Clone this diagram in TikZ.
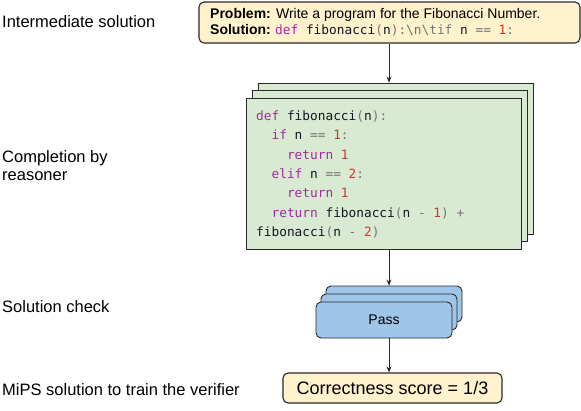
\documentclass[tikz,border=0pt]{standalone}
\usepackage{fontspec}
\setmainfont{Liberation Sans}
\newfontfamily\codefont{DejaVu Sans Mono}
\usetikzlibrary{arrows.meta}
\definecolor{kwc}{RGB}{166,38,164}
\definecolor{numc}{RGB}{205,55,45}
\definecolor{opc}{RGB}{115,115,115}
\definecolor{idc}{RGB}{20,20,35}
\definecolor{yel}{RGB}{255,242,204}
\definecolor{grn}{RGB}{217,234,211}
\definecolor{blu}{RGB}{159,197,232}
\definecolor{edge}{RGB}{40,40,40}
\newcommand{\kw}[1]{\textcolor{kwc}{#1}}
\newcommand{\nm}[1]{\textcolor{numc}{#1}}
\newcommand{\op}[1]{\textcolor{opc}{#1}}
\tikzset{
  lbl/.style={anchor=base west, inner sep=0pt, font=\fontsize{16.5}{18}\selectfont},
  codeline/.style={anchor=base west, inner sep=0pt, text=idc, font=\codefont\fontsize{12.8}{15}\selectfont},
  yelbox/.style={draw=edge, line width=1.1pt, fill=yel, rounded corners=5pt, inner sep=0pt},
  grnbox/.style={draw=edge, line width=0.9pt, fill=grn, inner sep=0pt},
  blubox/.style={draw=edge, line width=0.9pt, fill=blu, rounded corners=5pt, inner sep=0pt},
  arr/.style={draw=edge, line width=1pt, -{Stealth[length=6pt,width=5pt]}}
}
\begin{document}
\begin{tikzpicture}[x=1pt,y=-1pt]
\useasboundingbox (0,0) rectangle (581,410);
% left labels
\node[lbl] (l1) at (2,27) {Intermediate solution};
\node[lbl] (l2a) at (2,162) {Completion by};
\node[lbl] (l2b) at (2,180.5) {reasoner};
\node[lbl] (l3) at (2,312) {Solution check};
\node[lbl] (l4) at (2,395) {MiPS solution to train the verifier};
% top box
\node[yelbox, minimum width=381pt, minimum height=41pt] (top) at (389.5,22.5) {};
\node[anchor=base west, inner sep=0pt, font=\fontsize{14}{16}\selectfont] (p1) at (210,18) {\textbf{Problem:} Write a program for the Fibonacci Number.};
\node[anchor=base west, inner sep=0pt, font=\fontsize{14}{16}\selectfont] (p2) at (210,34) {\textbf{Solution:}};
\node[codeline] (p3) at (275,34) {\kw{def} fibonacci\op{(}n\op{):\textbackslash n\textbackslash tif} n \op{==} \nm{1}\op{:}};
% green stack
\node[grnbox, minimum width=275pt, minimum height=151pt] (g3) at (395.5,158.5) {};
\node[grnbox, minimum width=275pt, minimum height=151pt] (g2) at (389.5,166) {};
\node[grnbox, minimum width=275pt, minimum height=151pt] (g1) at (383.5,173.5) {};
\node[codeline] (c1) at (256,120.6) {\kw{def} fibonacci\op{(}n\op{):}};
\node[codeline] (c2) at (271.4,139.9) {\kw{if} n \op{==} \nm{1}\op{:}};
\node[codeline] (c3) at (286.8,159.2) {\kw{return} \nm{1}};
\node[codeline] (c4) at (271.4,178.5) {\kw{elif} n \op{==} \nm{2}\op{:}};
\node[codeline] (c5) at (286.8,197.8) {\kw{return} \nm{1}};
\node[codeline] (c6) at (271.4,217.1) {\kw{return} fibonacci\op{(}n \op{-} \nm{1}\op{)} \op{+}};
\node[codeline] (c7) at (256,236.4) {fibonacci\op{(}n \op{-} \nm{2}\op{)}};
% blue stack
\node[blubox, minimum width=136pt, minimum height=36pt] (b3) at (394,304) {};
\node[blubox, minimum width=136pt, minimum height=36pt] (b2) at (389,312) {};
\node[blubox, minimum width=136pt, minimum height=36pt] (b1) at (384,320) {\fontsize{14}{16}\selectfont Pass};
% result
\node[yelbox, minimum width=219pt, minimum height=30pt, font=\fontsize{18}{20}\selectfont] (res) at (392.5,388) {Correctness score = 1/3};
% arrows
\coordinate (ax) at (389,0);
\draw[arr] (top.south -| ax) -- (g3.north -| ax);
\draw[arr] (g1.south -| ax) -- (b3.north -| ax);
\draw[arr] (b1.south -| ax) -- (res.north -| ax);
\end{tikzpicture}
\end{document}
